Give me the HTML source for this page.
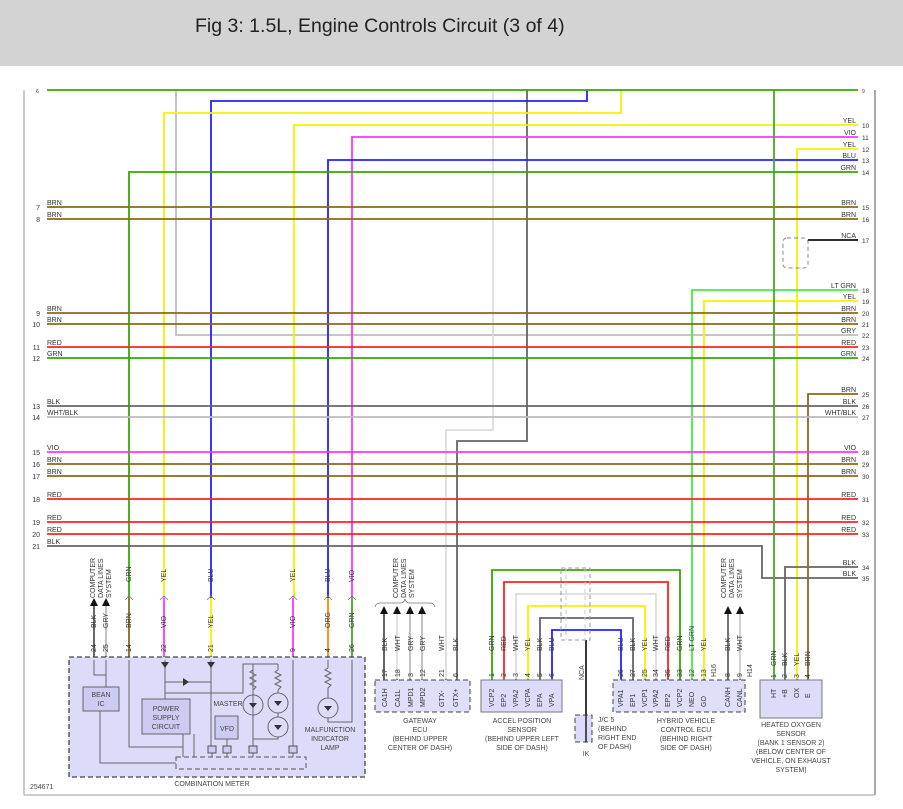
<!DOCTYPE html>
<html><head><meta charset="utf-8"><style>
html,body{margin:0;padding:0;background:#fff;}
svg{display:block;font-family:"Liberation Sans",sans-serif;}
</style></head><body>
<svg width="903" height="809" viewBox="0 0 903 809" xmlns="http://www.w3.org/2000/svg">
<rect x="0" y="0" width="903" height="66" fill="#d3d3d3"/>
<text x="195" y="32" font-size="19.5" fill="#222">Fig 3: 1.5L, Engine Controls Circuit (3 of 4)</text>
<line x1="24" y1="90" x2="24" y2="795" stroke="#bbb" stroke-width="1.5"/>
<line x1="875" y1="90" x2="875" y2="795" stroke="#555" stroke-width="1"/>
<line x1="24" y1="795" x2="875" y2="795" stroke="#bbb" stroke-width="1.5"/>

<g fill="none" stroke-width="1.8">
<!-- verticals from top -->
<polyline points="176,90 176,335 858,335" stroke="#bdbdbd"/>
<polyline points="493,90 493,430 446,430 446,680" stroke="#dcdcdc"/>
<polyline points="527,90 527,441 457,441 457,680" stroke="#666"/>
<polyline points="587,90 587,101 211,101 211,598" stroke="#2222ff"/>
<polyline points="621,90 621,113 164,113 164,598" stroke="#f2f200"/>
<polyline points="858,125 294,125 294,598" stroke="#f2f200"/>
<polyline points="858,137 352,137 352,598" stroke="#ff33ff"/>
<polyline points="858,149 797,149 797,680" stroke="#f2f200"/>
<polyline points="858,160 328,160 328,598" stroke="#2222ff"/>
<polyline points="858,172 129,172 129,598" stroke="#33aa00"/>
<polyline points="858,290 692,290 692,680" stroke="#44ee44"/>
<polyline points="858,301 704,301 704,680" stroke="#f2f200"/>
<polyline points="858,394 808,394 808,680" stroke="#8a6a1a"/>
<polyline points="47,546 762,546 762,578 858,578" stroke="#666"/>
<polyline points="858,567 785,567 785,680" stroke="#666"/>
<line x1="808" y1="240" x2="858" y2="240" stroke="#111"/>
<!-- full-width -->
<line x1="47" y1="207" x2="858" y2="207" stroke="#8a6a1a"/>
<line x1="47" y1="219" x2="858" y2="219" stroke="#8a6a1a"/>
<line x1="47" y1="313" x2="858" y2="313" stroke="#8a6a1a"/>
<line x1="47" y1="324" x2="858" y2="324" stroke="#8a6a1a"/>
<line x1="47" y1="347" x2="858" y2="347" stroke="#ff2222"/>
<line x1="47" y1="358" x2="858" y2="358" stroke="#33aa00"/>
<line x1="47" y1="406" x2="858" y2="406" stroke="#666"/>
<line x1="47" y1="417" x2="858" y2="417" stroke="#bbb"/>
<line x1="47" y1="452" x2="858" y2="452" stroke="#ff33ff"/>
<line x1="47" y1="464" x2="858" y2="464" stroke="#8a6a1a"/>
<line x1="47" y1="476" x2="858" y2="476" stroke="#8a6a1a"/>
<line x1="47" y1="499" x2="858" y2="499" stroke="#ff2222"/>
<line x1="47" y1="522" x2="858" y2="522" stroke="#ff2222"/>
<line x1="47" y1="534" x2="858" y2="534" stroke="#ff2222"/>
<line x1="774" y1="90" x2="774" y2="680" stroke="#44aa22"/>
<line x1="47" y1="90" x2="858" y2="90" stroke="#33aa00"/>
<!-- combination meter lower wires -->
<line x1="129" y1="598" x2="129" y2="657" stroke="#8a6a1a"/>
<line x1="164" y1="598" x2="164" y2="657" stroke="#ff33ff"/>
<line x1="211" y1="598" x2="211" y2="657" stroke="#f2f200"/>
<line x1="293" y1="598" x2="293" y2="657" stroke="#ff33ff"/>
<line x1="328" y1="598" x2="328" y2="657" stroke="#ff8800"/>
<line x1="352" y1="598" x2="352" y2="657" stroke="#44aa22"/>
<line x1="94" y1="605" x2="94" y2="657" stroke="#555"/>
<line x1="106" y1="605" x2="106" y2="657" stroke="#bbb"/>
<!-- gateway arrows -->
<line x1="384" y1="612" x2="384" y2="680" stroke="#555"/>
<line x1="397" y1="612" x2="397" y2="680" stroke="#ddd"/>
<line x1="410" y1="612" x2="410" y2="680" stroke="#bbb"/>
<line x1="422" y1="612" x2="422" y2="680" stroke="#bbb"/>
<!-- accel loops -->
<polyline points="492,680 492,570 680,570 680,680" stroke="#33aa00"/>
<polyline points="504,680 504,582 668,582 668,680" stroke="#ff2222"/>
<polyline points="516,680 516,594 656,594 656,680" stroke="#dcdcdc"/>
<polyline points="528,680 528,606 645,606 645,680" stroke="#f2f200"/>
<polyline points="540,680 540,618 633,618 633,680" stroke="#666"/>
<polyline points="552,680 552,630 621,630 621,680" stroke="#2222ff"/>
<line x1="586" y1="640" x2="586" y2="738" stroke="#222"/>
<line x1="728" y1="612" x2="728" y2="680" stroke="#666"/>
<line x1="740" y1="612" x2="740" y2="680" stroke="#ccc"/>
</g>
<!-- NCA dashed box -->
<rect x="783" y="238" width="25" height="30" rx="4" fill="none" stroke="#888" stroke-dasharray="4,3"/>
<!-- shield dashed -->
<rect x="561" y="568" width="29" height="72" fill="none" stroke="#999" stroke-dasharray="4,3"/>
<line x1="566" y1="568" x2="566" y2="640" stroke="#ccc" stroke-dasharray="4,3"/>
<line x1="585" y1="568" x2="585" y2="640" stroke="#ccc" stroke-dasharray="4,3"/>

<!-- arrowheads -->
<g fill="#111">
<polygon points="90,606 94,598 98,606"/><polygon points="102,606 106,598 110,606"/>
<polygon points="380,614 384,606 388,614"/><polygon points="393,614 397,606 401,614"/><polygon points="406,614 410,606 414,614"/><polygon points="418,614 422,606 426,614"/>
<polygon points="724,614 728,606 732,614"/><polygon points="736,614 740,606 744,614"/>
</g>
<path d="M375,607 Q376,603 380,603 L400,603 Q404,603 405,599 Q406,603 410,603 L430,603 Q434,603 435,607" fill="none" stroke="#777" stroke-width="0.8"/>

<!-- wire labels -->
<g font-size="7" fill="#333">
<text x="36" y="93" font-size="5">6</text><text x="862" y="93" font-size="5">9</text>
<g text-anchor="end">
<text x="40" y="210">7</text><text x="40" y="222">8</text><text x="40" y="316">9</text><text x="40" y="327">10</text>
<text x="40" y="350">11</text><text x="40" y="361">12</text><text x="40" y="409">13</text><text x="40" y="420">14</text>
<text x="40" y="455">15</text><text x="40" y="467">16</text><text x="40" y="479">17</text><text x="40" y="502">18</text>
<text x="40" y="525">19</text><text x="40" y="537">20</text><text x="40" y="549">21</text>
<text x="856" y="123">YEL</text><text x="856" y="135">VIO</text><text x="856" y="147">YEL</text><text x="856" y="158">BLU</text><text x="856" y="170">GRN</text>
<text x="856" y="205">BRN</text><text x="856" y="217">BRN</text><text x="856" y="238">NCA</text>
<text x="856" y="288">LT GRN</text><text x="856" y="299">YEL</text><text x="856" y="311">BRN</text><text x="856" y="322">BRN</text>
<text x="856" y="333">GRY</text><text x="856" y="345">RED</text><text x="856" y="356">GRN</text>
<text x="856" y="392">BRN</text><text x="856" y="404">BLK</text><text x="856" y="415">WHT/BLK</text>
<text x="856" y="450">VIO</text><text x="856" y="462">BRN</text><text x="856" y="474">BRN</text><text x="856" y="497">RED</text>
<text x="856" y="520">RED</text><text x="856" y="532">RED</text><text x="856" y="565">BLK</text><text x="856" y="576">BLK</text>
</g>
<text x="47" y="205">BRN</text><text x="47" y="217">BRN</text><text x="47" y="311">BRN</text><text x="47" y="322">BRN</text>
<text x="47" y="345">RED</text><text x="47" y="356">GRN</text><text x="47" y="404">BLK</text><text x="47" y="415">WHT/BLK</text>
<text x="47" y="450">VIO</text><text x="47" y="462">BRN</text><text x="47" y="474">BRN</text><text x="47" y="497">RED</text>
<text x="47" y="520">RED</text><text x="47" y="532">RED</text><text x="47" y="544">BLK</text>
<g font-size="6.5">
<text x="862" y="128">10</text><text x="862" y="140">11</text><text x="862" y="152">12</text><text x="862" y="163">13</text><text x="862" y="175">14</text>
<text x="862" y="210">15</text><text x="862" y="222">16</text><text x="862" y="243">17</text><text x="862" y="293">18</text><text x="862" y="304">19</text>
<text x="862" y="316">20</text><text x="862" y="327">21</text><text x="862" y="338">22</text><text x="862" y="350">23</text><text x="862" y="361">24</text>
<text x="862" y="397">25</text><text x="862" y="409">26</text><text x="862" y="420">27</text><text x="862" y="455">28</text><text x="862" y="467">29</text>
<text x="862" y="479">30</text><text x="862" y="502">31</text><text x="862" y="525">32</text><text x="862" y="537">33</text><text x="862" y="570">34</text><text x="862" y="581">35</text>
</g>
</g>

<!-- rotated labels -->
<g font-size="7" fill="#333">
<g transform="rotate(-90)">
<!-- meter upper -->
<text x="-582" y="131">GRN</text><text x="-582" y="166">YEL</text><text x="-582" y="213">BLU</text>
<text x="-582" y="295">YEL</text><text x="-582" y="330">BLU</text><text x="-582" y="354">VIO</text>
<!-- meter lower -->
<text x="-628" y="96">BLK</text><text x="-628" y="108">GRY</text><text x="-628" y="131">BRN</text><text x="-628" y="166">VIO</text>
<text x="-628" y="213">YEL</text><text x="-628" y="295">VIO</text><text x="-628" y="330">ORG</text><text x="-628" y="354">GRN</text>
<text x="-652" y="96">24</text><text x="-652" y="108">25</text><text x="-652" y="131">14</text><text x="-652" y="166">22</text>
<text x="-652" y="213">21</text><text x="-652" y="295">9</text><text x="-652" y="330">4</text><text x="-652" y="354">26</text>
<text x="-598" y="95">COMPUTER</text><text x="-598" y="103">DATA LINES</text><text x="-598" y="111">SYSTEM</text>
<!-- gateway -->
<text x="-598" y="398">COMPUTER</text><text x="-598" y="406">DATA LINES</text><text x="-598" y="414">SYSTEM</text>
<text x="-651" y="387">BLK</text><text x="-651" y="400">WHT</text><text x="-651" y="413">GRY</text><text x="-651" y="425">GRY</text>
<text x="-651" y="444">WHT</text><text x="-651" y="458">BLK</text>
<text x="-677" y="387">17</text><text x="-677" y="400">18</text><text x="-677" y="413">3</text><text x="-677" y="425">12</text>
<text x="-677" y="444">21</text><text x="-677" y="458">6</text>
<text x="-707" y="387">CA1H</text><text x="-707" y="400">CA1L</text><text x="-707" y="413">MPD1</text><text x="-707" y="425">MPD2</text>
<text x="-707" y="444">GTX-</text><text x="-707" y="458">GTX+</text>
<!-- accel -->
<text x="-651" y="494">GRN</text><text x="-651" y="506">RED</text><text x="-651" y="518">WHT</text><text x="-651" y="530">YEL</text><text x="-651" y="542">BLK</text><text x="-651" y="554">BLU</text>
<text x="-677" y="494">1</text><text x="-677" y="506">2</text><text x="-677" y="518">3</text><text x="-677" y="530">4</text><text x="-677" y="542">5</text><text x="-677" y="554">6</text>
<text x="-707" y="494">VCP2</text><text x="-707" y="506">EP2</text><text x="-707" y="518">VPA2</text><text x="-707" y="530">VCPA</text><text x="-707" y="542">EPA</text><text x="-707" y="554">VPA</text>
<text x="-680" y="584">NCA</text><text x="-722" y="584">A</text>
<!-- hybrid -->
<text x="-651" y="623">BLU</text><text x="-651" y="635">BLK</text><text x="-651" y="647">YEL</text><text x="-651" y="658">WHT</text><text x="-651" y="670">RED</text><text x="-651" y="682">GRN</text><text x="-651" y="694">LT GRN</text><text x="-651" y="706">YEL</text><text x="-651" y="730">BLK</text><text x="-651" y="742">WHT</text>
<text x="-677" y="623">26</text><text x="-677" y="635">27</text><text x="-677" y="647">25</text><text x="-677" y="658">34</text><text x="-677" y="670">35</text><text x="-677" y="682">33</text><text x="-677" y="694">12</text><text x="-677" y="706">13</text><text x="-677" y="730">8</text><text x="-677" y="742">9</text>
<text x="-677" y="716">H16</text><text x="-677" y="752">H14</text>
<text x="-707" y="623">VPA1</text><text x="-707" y="635">EP1</text><text x="-707" y="647">VCP1</text><text x="-707" y="658">VPA2</text><text x="-707" y="670">EP2</text><text x="-707" y="682">VCP2</text><text x="-707" y="694">NEO</text><text x="-707" y="706">GO</text><text x="-707" y="730">CANH</text><text x="-707" y="742">CANL</text>
<text x="-598" y="726">COMPUTER</text><text x="-598" y="734">DATA LINES</text><text x="-598" y="742">SYSTEM</text>
<!-- O2 -->
<text x="-666" y="776">GRN</text><text x="-666" y="787">BLK</text><text x="-666" y="799">YEL</text><text x="-666" y="810">BRN</text>
<text x="-678" y="776">1</text><text x="-678" y="787">2</text><text x="-678" y="799">3</text><text x="-678" y="810">4</text>
<text x="-698" y="776">HT</text><text x="-698" y="787">+B</text><text x="-698" y="799">OX</text><text x="-698" y="810">E</text>
</g>
</g>

<!-- connector chevrons -->
<g fill="none" stroke="#777" stroke-width="0.8">
<path d="M125,600 L129,596 L133,600 M160,600 L164,596 L168,600 M207,600 L211,596 L215,600 M289,600 L293,596 L297,600 M324,600 L328,596 L332,600 M348,600 L352,596 L356,600"/>
<path d="M90,660 L94,656 L98,660 M102,660 L106,656 L110,660 M125,660 L129,656 L133,660 M160,660 L164,656 L168,660 M207,660 L211,656 L215,660 M289,660 L293,656 L297,660 M324,660 L328,656 L332,660 M348,660 L352,656 L356,660"/>
<path d="M380,683 L384,679 L388,683 M393,683 L397,679 L401,683 M406,683 L410,679 L414,683 M418,683 L422,679 L426,683 M442,683 L446,679 L450,683 M453,683 L457,679 L461,683"/>
<path d="M488,683 L492,679 L496,683 M500,683 L504,679 L508,683 M512,683 L516,679 L520,683 M524,683 L528,679 L532,683 M536,683 L540,679 L544,683 M548,683 L552,679 L556,683"/>
<path d="M617,683 L621,679 L625,683 M629,683 L633,679 L637,683 M641,683 L645,679 L649,683 M652,683 L656,679 L660,683 M664,683 L668,679 L672,683 M676,683 L680,679 L684,683 M688,683 L692,679 L696,683 M700,683 L704,679 L708,683 M724,683 L728,679 L732,683 M736,683 L740,679 L744,683"/>
<path d="M770,683 L774,679 L778,683 M781,683 L785,679 L789,683 M793,683 L797,679 L801,683 M804,683 L808,679 L812,683"/>
</g>

<!-- combination meter -->
<rect x="69" y="657" width="296" height="120" fill="#dcdcfa" stroke="#444" stroke-width="1.3" stroke-dasharray="5,3"/>
<g fill="none" stroke="#666" stroke-width="1">
<polyline points="94,660 94,675 106,675"/><line x1="106" y1="660" x2="106" y2="687"/>
<polyline points="100,711 100,763 176,763"/>
<polyline points="129,660 129,747 183,747 183,757"/>
<line x1="183" y1="734" x2="183" y2="757"/><line x1="194" y1="734" x2="194" y2="757"/>
<line x1="165" y1="660" x2="165" y2="699"/>
<line x1="165" y1="682" x2="211" y2="682"/>
<polyline points="165,693 243,693 243,664 278,664"/>
<line x1="211" y1="660" x2="211" y2="746"/>
<line x1="212" y1="753" x2="212" y2="757"/>
<line x1="227" y1="739" x2="227" y2="746"/><line x1="227" y1="753" x2="227" y2="757"/>
<line x1="253" y1="664" x2="253" y2="746"/><line x1="253" y1="753" x2="253" y2="757"/>
<polyline points="278,664 278,670"/><line x1="278" y1="690" x2="278" y2="693"/><line x1="278" y1="713" x2="278" y2="717"/>
<polyline points="278,737 278,739 253,739"/>
<line x1="293" y1="660" x2="293" y2="746"/><line x1="293" y1="753" x2="293" y2="757"/>
<line x1="328" y1="660" x2="328" y2="668"/>
<polyline points="328,718 328,722 352,722 352,660"/>
<polyline points="253,670 250,672 256,675 250,678 256,681 250,684 256,687 253,690"/>
<polyline points="278,670 275,672 281,675 275,678 281,681 275,684 281,687 278,690"/>
<polyline points="328,668 325,670 331,673 325,676 331,679 325,682 331,685 328,688 328,698"/>
<circle cx="253" cy="705" r="10"/><circle cx="278" cy="703" r="10"/><circle cx="278" cy="727" r="10"/><circle cx="328" cy="708" r="10"/>
<line x1="253" y1="690" x2="253" y2="695"/>
</g>
<g fill="#333">
<polygon points="161,662 169,662 165,668"/><polygon points="207,662 215,662 211,668"/><polygon points="183,678 183,686 189,682"/>
<polygon points="249,703 257,703 253,708"/><polygon points="274,701 282,701 278,706"/><polygon points="274,725 282,725 278,730"/><polygon points="324,706 332,706 328,711"/>
</g>
<rect x="83" y="687" width="36" height="24" fill="#ccccf2" stroke="#666"/>
<rect x="142" y="699" width="48" height="35" fill="#ccccf2" stroke="#666"/>
<rect x="215" y="716" width="23" height="23" fill="#ccccf2" stroke="#666"/>
<rect x="176" y="757" width="130" height="12" fill="none" stroke="#555" stroke-dasharray="5,3"/>
<g fill="#ccccf2" stroke="#555"><rect x="208" y="746" width="8" height="7"/><rect x="223" y="746" width="8" height="7"/><rect x="249" y="746" width="8" height="7"/><rect x="289" y="746" width="8" height="7"/></g>
<g font-size="7" fill="#444" text-anchor="middle">
<text x="101" y="697">BEAN</text><text x="101" y="706">IC</text>
<text x="166" y="711">POWER</text><text x="166" y="720">SUPPLY</text><text x="166" y="729">CIRCUIT</text>
<text x="227" y="731">VFD</text>
<text x="228" y="706">MASTER</text>
<text x="330" y="732">MALFUNCTION</text><text x="330" y="741">INDICATOR</text><text x="330" y="750">LAMP</text>
<text x="212" y="786">COMBINATION METER</text>
<text x="420" y="723">GATEWAY</text><text x="420" y="732">ECU</text><text x="420" y="741">(BEHIND UPPER</text><text x="420" y="750">CENTER OF DASH)</text>
<text x="522" y="723">ACCEL POSITION</text><text x="522" y="732">SENSOR</text><text x="522" y="741">(BEHIND UPPER LEFT</text><text x="522" y="750">SIDE OF DASH)</text>
<text x="686" y="723">HYBRID VEHICLE</text><text x="686" y="732">CONTROL ECU</text><text x="686" y="741">(BEHIND RIGHT</text><text x="686" y="750">SIDE OF DASH)</text>
<text x="791" y="727">HEATED OXYGEN</text><text x="791" y="736">SENSOR</text><text x="791" y="745">(BANK 1 SENSOR 2)</text><text x="791" y="754">(BELOW CENTER OF</text><text x="791" y="763">VEHICLE, ON EXHAUST</text><text x="791" y="772">SYSTEM)</text>
<text x="586" y="756">IK</text>
</g>
<g font-size="7" fill="#444">
<text x="598" y="722">J/C 5</text><text x="598" y="731">(BEHIND</text><text x="598" y="740">RIGHT END</text><text x="598" y="749">OF DASH)</text>
<text x="30" y="789">254671</text>
</g>
<!-- component boxes -->
<rect x="375" y="680" width="95" height="32" fill="#dcdcfa" stroke="#444" stroke-dasharray="5,3" fill-opacity="0.9"/>
<rect x="481" y="680" width="81" height="32" fill="#dcdcfa" stroke="#777"/>
<rect x="613" y="680" width="132" height="32" fill="#dcdcfa" stroke="#444" stroke-dasharray="5,3" fill-opacity="0.9"/>
<rect x="760" y="680" width="62" height="38" fill="#dcdcfa" stroke="#777"/>
<rect x="575" y="715" width="17" height="27" fill="#dcdcfa" stroke="#444" stroke-dasharray="5,3"/>
<line x1="586" y1="715" x2="586" y2="742" stroke="#222" stroke-width="1.5"/>
<g font-size="7" fill="#333" transform="rotate(-90)">
<text x="-707" y="387">CA1H</text><text x="-707" y="400">CA1L</text><text x="-707" y="413">MPD1</text><text x="-707" y="425">MPD2</text><text x="-707" y="444">GTX-</text><text x="-707" y="458">GTX+</text>
<text x="-707" y="494">VCP2</text><text x="-707" y="506">EP2</text><text x="-707" y="518">VPA2</text><text x="-707" y="530">VCPA</text><text x="-707" y="542">EPA</text><text x="-707" y="554">VPA</text>
<text x="-707" y="623">VPA1</text><text x="-707" y="635">EP1</text><text x="-707" y="647">VCP1</text><text x="-707" y="658">VPA2</text><text x="-707" y="670">EP2</text><text x="-707" y="682">VCP2</text><text x="-707" y="694">NEO</text><text x="-707" y="706">GO</text><text x="-707" y="730">CANH</text><text x="-707" y="742">CANL</text>
<text x="-698" y="776">HT</text><text x="-698" y="787">+B</text><text x="-698" y="799">OX</text><text x="-698" y="810">E</text>
</g>
</svg>
</body></html>
